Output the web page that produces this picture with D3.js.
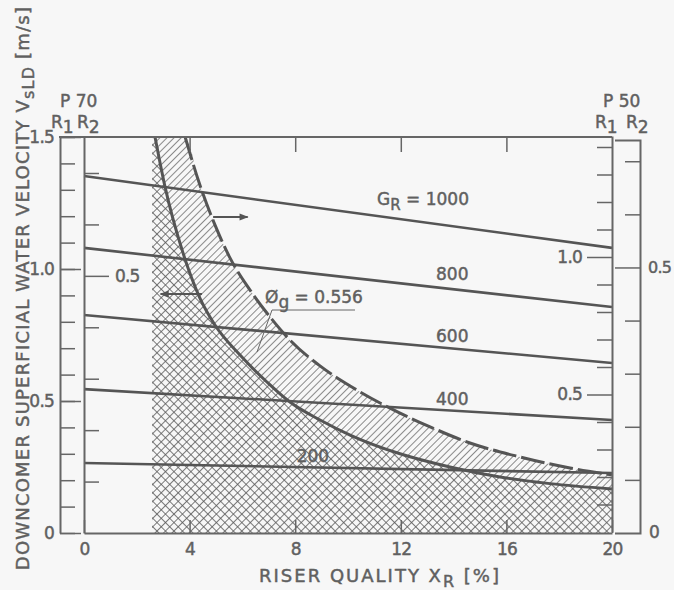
<!DOCTYPE html>
<html lang="en">
<head>
    <title>Downcomer velocity vs riser quality</title>
    <meta charset="utf-8">
    <style>
        body { margin: 0; background: #f7f7f7; }
        text { font-family: "DejaVu Sans", sans-serif; fill: #606060; stroke: #606060; stroke-width: 0.45px; }
        .axis .domain { stroke: #666; stroke-width: 2px; fill: none; }
        .axis line { stroke: #666; stroke-width: 1.5px; }
        .axis text { font-size: 17px; fill: #606060; letter-spacing: -0.8px; font-family: "DejaVu Sans", sans-serif; }
    </style>
    <script src="https://d3js.org/d3.v7.min.js"></script>
</head>
<body>
<div id="chart"></div>
<script>
    // riser quality ticks [%]
    const xTicks = [0, 4, 8, 12, 16, 20];
    const xInnerTicks = [4, 8, 12, 16];

    // G_R lines: velocity at X_R = 0 and X_R = 20 (left R1 scale, m/s)
    const flowRates = [1000, 800, 600, 400, 200];
    const vAtStart = [1.352, 1.080, 0.826, 0.545, 0.265];
    const vAtEnd = [1.080, 0.856, 0.644, 0.428, 0.227];

    // solid limit curve
    const solidX = [2.69, 3.07, 3.75, 4.39, 4.96, 5.91, 6.93, 7.80, 8.94, 10.08, 11.97, 13.86, 15.76, 17.65, 20.0];
    const solidV = [1.500, 1.311, 1.061, 0.890, 0.788, 0.674, 0.572, 0.496, 0.428, 0.371, 0.300, 0.250, 0.212, 0.187, 0.167];

    // dashed limit curve
    const dashX = [3.83, 4.39, 4.96, 5.53, 6.29, 7.05, 7.80, 8.94, 10.08, 11.59, 13.11, 14.62, 16.52, 18.41, 20.0];
    const dashV = [1.500, 1.318, 1.167, 1.042, 0.920, 0.818, 0.731, 0.633, 0.557, 0.473, 0.402, 0.341, 0.288, 0.246, 0.220];

    // left edge of the cross-hatched zone [%]
    const crossEdge = 2.58;

    // axis ticks
    const leftR1Ticks = [0, 0.1, 0.2, 0.3, 0.4, 0.5, 0.6, 0.7, 0.8, 0.9, 1.0, 1.1, 1.2, 1.3, 1.4, 1.5];
    const leftR1Labels = [0, 0.5, 1.0, 1.5];
    const leftR2Ticks = [0.1, 0.2, 0.3, 0.4, 0.6, 0.7];
    const leftR2Labels = [0.5];
    const rightR1Ticks = [0.1, 0.2, 0.3, 0.4, 0.6, 0.7, 0.8, 0.9, 1.1, 1.2, 1.3, 1.4];
    const rightR1Labels = [0.5, 1.0];
    const rightR2Ticks = [0.1, 0.2, 0.3, 0.4, 0.6, 0.7];
    const rightR2Labels = [0.5];

    const W = 674, H = 590;
    const ink = "#666", lineInk = "#555", bg = "#f7f7f7";

    const svg = d3.select("#chart").append("svg")
        .attr("width", W).attr("height", H);

    svg.append("rect").attr("width", W).attr("height", H).attr("fill", bg);

    const x = d3.scaleLinear().domain([0, 20]).range([84, 612]);
    const y = d3.scaleLinear().domain([0, 1.5]).range([533, 137]);      // P70 R1 (left outer)
    const yL2 = d3.scaleLinear().domain([0, 0.77]).range([533, 137]);   // P70 R2 (left inner)
    const yR1 = d3.scaleLinear().domain([0, 1.44]).range([532, 136]);   // P50 R1 (right inner)
    const yR2 = d3.scaleLinear().domain([0, 0.74]).range([533, 140]);   // P50 R2 (right outer)

    // patterns
    const defs = svg.append("defs");
    const diag = defs.append("pattern").attr("id", "diag")
        .attr("patternUnits", "userSpaceOnUse").attr("width", 5).attr("height", 5)
        .attr("patternTransform", "rotate(45)");
    diag.append("rect").attr("width", 5).attr("height", 5).attr("fill", bg);
    diag.append("line").attr("x1", 0).attr("y1", 0).attr("x2", 0).attr("y2", 5)
        .attr("stroke", ink).attr("stroke-width", 1.5);

    const cross = defs.append("pattern").attr("id", "cross")
        .attr("patternUnits", "userSpaceOnUse").attr("width", 6).attr("height", 6)
        .attr("patternTransform", "rotate(45)");
    cross.append("rect").attr("width", 6).attr("height", 6).attr("fill", bg);
    cross.append("line").attr("x1", 0).attr("y1", 0).attr("x2", 0).attr("y2", 6)
        .attr("stroke", "#5a5a5a").attr("stroke-width", 1.6);
    cross.append("line").attr("x1", 0).attr("y1", 0).attr("x2", 6).attr("y2", 0)
        .attr("stroke", "#5a5a5a").attr("stroke-width", 1.6);

    const arrowHead = defs.append("marker").attr("id", "arrow")
        .attr("viewBox", "0 0 10 10").attr("refX", 9).attr("refY", 5)
        .attr("markerWidth", 13).attr("markerHeight", 9)
        .attr("markerUnits", "userSpaceOnUse")
        .attr("orient", "auto");
    arrowHead.append("path").attr("d", "M0,1 L10,5 L0,9 Z").attr("fill", lineInk);

    const solid = solidX.map((d, i) => ({x: d, v: solidV[i]}));
    const dashed = dashX.map((d, i) => ({x: d, v: dashV[i]}));

    const area = d3.area()
        .x(d => x(d.x)).y0(y(0)).y1(d => y(d.v))
        .curve(d3.curveMonotoneX);
    const line = d3.line()
        .x(d => x(d.x)).y(d => y(d.v))
        .curve(d3.curveMonotoneX);

    // hatched band (below dashed curve), then cross-hatched zone on top
    svg.append("path")
        .datum([{x: crossEdge, v: 1.5}].concat(dashed))
        .attr("fill", "url(#diag)")
        .attr("d", area);
    svg.append("path")
        .datum([{x: crossEdge, v: 1.5}].concat(solid))
        .attr("fill", "url(#cross)")
        .attr("d", area);

    // G_R lines
    flowRates.forEach((g, i) => {
        svg.append("path")
            .datum([{x: 0, v: vAtStart[i]}, {x: 20, v: vAtEnd[i]}])
            .attr("fill", "none")
            .attr("stroke", lineInk)
            .attr("stroke-width", 2.6)
            .attr("d", d3.line().x(d => x(d.x)).y(d => y(d.v)));
    });

    // limit curves
    svg.append("path").datum(solid)
        .attr("fill", "none").attr("stroke", lineInk).attr("stroke-width", 3)
        .attr("d", line);
    svg.append("path").datum(dashed)
        .attr("fill", "none").attr("stroke", lineInk).attr("stroke-width", 3)
        .style("stroke-dasharray", "24,5")
        .attr("d", line);

    // axes -----------------------------------------------------------
    function styleAxis(g) {
        g.attr("class", "axis");
        g.selectAll(".domain").attr("stroke", ink).attr("stroke-width", 2);
        g.selectAll(".tick line").attr("stroke", ink).attr("stroke-width", 1.5);
    }

    // frame top line
    svg.append("line")
        .attr("x1", 59).attr("x2", x(20)).attr("y1", y(1.5)).attr("y2", y(1.5))
        .attr("stroke", ink).attr("stroke-width", 2);

    // left outer (P70 R1)
    svg.append("g").attr("transform", "translate(60,0)")
        .call(d3.axisRight(y).tickValues(leftR1Ticks).tickSize(15).tickSizeOuter(0).tickFormat(""))
        .call(styleAxis);
    svg.append("g").attr("transform", "translate(60,0)")
        .call(d3.axisRight(y).tickValues(leftR1Labels).tickSize(21).tickSizeOuter(0)
            .tickFormat(d => d === 0 ? "0" : d.toFixed(1)))
        .call(styleAxis)
        .call(g => g.select(".domain").remove())
        .call(g => g.selectAll(".tick text").attr("x", -6).attr("text-anchor", "end"));

    // left inner (P70 R2)
    svg.append("g").attr("transform", `translate(${x(0)},0)`)
        .call(d3.axisRight(yL2).tickValues(leftR2Ticks).tickSize(15).tickSizeOuter(0).tickFormat(""))
        .call(styleAxis);
    svg.append("g").attr("transform", `translate(${x(0)},0)`)
        .call(d3.axisRight(yL2).tickValues(leftR2Labels).tickSize(25).tickSizeOuter(0)
            .tickPadding(6).tickFormat(d3.format(".1f")))
        .call(styleAxis)
        .call(g => g.select(".domain").remove());

    // bottom
    svg.append("g").attr("transform", `translate(0,${y(0)})`)
        .call(d3.axisBottom(x).tickValues(xTicks).tickSizeInner(-13).tickSizeOuter(0).tickPadding(9))
        .call(styleAxis)
        .call(g => g.selectAll(".tick text").attr("dy", "0.75em"));

    // top inner ticks
    svg.append("g").attr("transform", `translate(0,${y(1.5)})`)
        .call(d3.axisTop(x).tickValues(xInnerTicks).tickSize(-15).tickSizeOuter(0).tickFormat(""))
        .call(styleAxis)
        .call(g => g.select(".domain").remove());

    // right inner (P50 R1)
    svg.append("g").attr("transform", `translate(${x(20)},0)`)
        .call(d3.axisLeft(yR1).tickValues(rightR1Ticks).tickSize(15).tickSizeOuter(0).tickFormat(""))
        .call(styleAxis);
    svg.append("g").attr("transform", `translate(${x(20)},0)`)
        .call(d3.axisLeft(yR1).tickValues(rightR1Labels).tickSize(25).tickSizeOuter(0)
            .tickPadding(5).tickFormat(d3.format(".1f")))
        .call(styleAxis)
        .call(g => g.select(".domain").remove());

    // right outer (P50 R2)
    svg.append("g").attr("transform", "translate(640,0)")
        .call(d3.axisLeft(yR2).tickValues(rightR2Ticks).tickSize(15).tickSizeOuter(25).tickFormat(""))
        .call(styleAxis);
    svg.append("g").attr("transform", "translate(640,0)")
        .call(d3.axisLeft(yR2).tickValues(rightR2Labels).tickSize(25).tickSizeOuter(0)
            .tickFormat(d3.format(".1f")))
        .call(styleAxis)
        .call(g => g.select(".domain").remove())
        .call(g => g.selectAll(".tick text").attr("x", 8).attr("text-anchor", "start")
            .style("font-size", "16px"));
    svg.append("text")
        .attr("x", 649).attr("y", yR2(0)).attr("dy", "0.32em")
        .attr("font-size", 17).text("0");

    // scale headers
    function header(px, top, sub1x, sub2x) {
        svg.append("text").attr("x", px).attr("y", 107).attr("font-size", 17).text(top);
        const t1 = svg.append("text").attr("x", sub1x).attr("y", 128).attr("font-size", 17);
        t1.append("tspan").text("R");
        t1.append("tspan").attr("dy", 5).text("1");
        const t2 = svg.append("text").attr("x", sub2x).attr("y", 128).attr("font-size", 17);
        t2.append("tspan").text("R");
        t2.append("tspan").attr("dy", 5).text("2");
    }
    header(60, "P 70", 51, 77);
    header(603, "P 50", 595, 626);

    // labels of G_R lines
    const gLabel = svg.append("text").attr("x", x(11.1)).attr("y", 205).attr("font-size", 17);
    gLabel.append("tspan").text("G");
    gLabel.append("tspan").attr("dy", 5).attr("font-size", 15).text("R");
    gLabel.append("tspan").attr("dy", -5).text(" = 1000");
    const otherLabels = [
        {t: "800", px: 13.95, py: 280},
        {t: "600", px: 13.95, py: 342},
        {t: "400", px: 13.95, py: 405},
        {t: "200", px: 8.67, py: 462}
    ];
    otherLabels.forEach(d => {
        svg.append("text").attr("x", x(d.px)).attr("y", d.py)
            .attr("text-anchor", "middle").attr("font-size", 17).text(d.t);
    });

    // arrows
    svg.append("line")
        .attr("x1", x(4.89)).attr("x2", x(6.2)).attr("y1", y(1.197)).attr("y2", y(1.197))
        .attr("stroke", lineInk).attr("stroke-width", 2).attr("marker-end", "url(#arrow)");
    svg.append("line")
        .attr("x1", x(4.47)).attr("x2", x(2.9)).attr("y1", y(0.905)).attr("y2", y(0.905))
        .attr("stroke", lineInk).attr("stroke-width", 2).attr("marker-end", "url(#arrow)");

    // phi_g annotation
    const phi = svg.append("text").attr("x", 265).attr("y", 303).attr("font-size", 17);
    phi.append("tspan").text("Ø");
    phi.append("tspan").attr("dy", 5).text("g");
    phi.append("tspan").attr("dy", -5).text(" = 0.556");
    svg.append("path")
        .attr("d", "M355,310 H272 L257,352")
        .attr("fill", "none").attr("stroke", ink).attr("stroke-width", 1);

    // axis titles
    const xt = svg.append("text").attr("x", 380).attr("y", 582)
        .attr("text-anchor", "middle").attr("font-size", 18).attr("letter-spacing", 2);
    xt.append("tspan").text("RISER  QUALITY  X");
    xt.append("tspan").attr("dy", 5).attr("font-size", 16).text("R");
    xt.append("tspan").attr("dy", -5).text(" [%]");

    const yt = svg.append("text")
        .attr("transform", "translate(29,288) rotate(-90)")
        .attr("text-anchor", "middle").attr("font-size", 18).attr("letter-spacing", 1.2);
    yt.append("tspan").text("DOWNCOMER  SUPERFICIAL  WATER  VELOCITY  V");
    yt.append("tspan").attr("dy", 5).attr("font-size", 16).text("sLD");
    yt.append("tspan").attr("dy", -5).text(" [m/s]");
</script>
</body>
</html>
